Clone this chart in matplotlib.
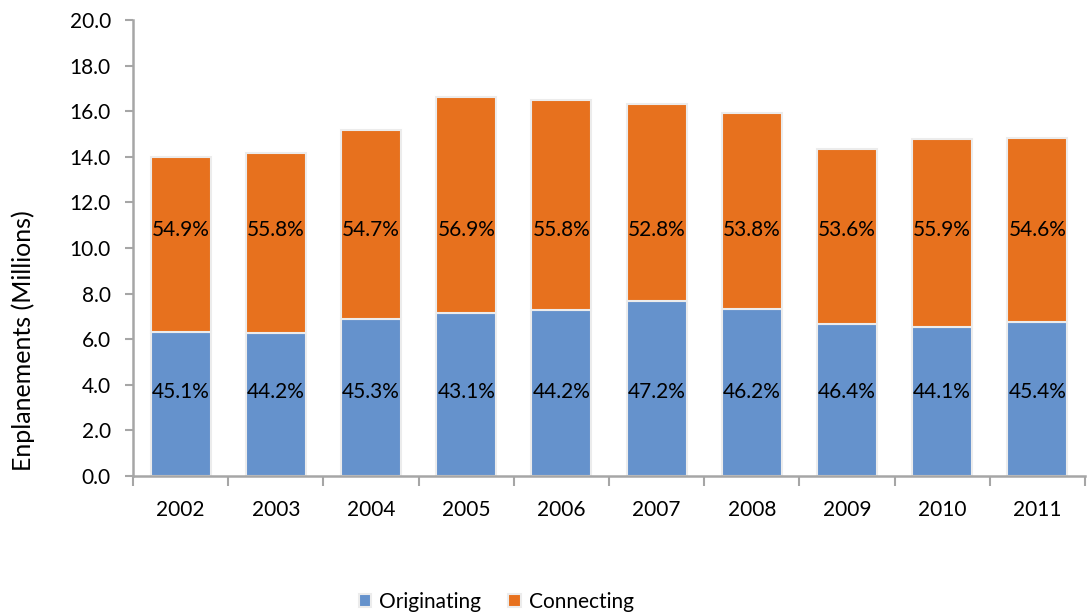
import numpy as np
import matplotlib.pyplot as plt
from matplotlib.ticker import FixedLocator, NullFormatter

plt.rcParams['font.family'] = ['Lato', 'DejaVu Sans']

years = ['2002', '2003', '2004', '2005', '2006', '2007', '2008', '2009', '2010', '2011']
# total enplanements (millions) per year
totals = [14.0, 14.17, 15.17, 16.62, 16.5, 16.3, 15.9, 14.35, 14.8, 14.83]
# share of originating / connecting passengers (%)
orig_pct = [45.1, 44.2, 45.3, 43.1, 44.2, 47.2, 46.2, 46.4, 44.1, 45.4]
conn_pct = [54.9, 55.8, 54.7, 56.9, 55.8, 52.8, 53.8, 53.6, 55.9, 54.6]

BLUE = '#6592cc'
ORANGE = '#e7711e'
GRID = '#a6a6a6'

totals = np.array(totals)
originating = totals * np.array(orig_pct) / 100
connecting = totals - originating

fig = plt.figure(figsize=(10.91, 6.14), dpi=100)
ax = fig.add_axes([0.122, 0.2248, 0.8725, 0.7426])

x = np.arange(len(years))
ax.bar(x, originating, width=0.63, color=BLUE, edgecolor='#ececec', linewidth=1.5,
       label='Originating', zorder=2)
ax.bar(x, connecting, width=0.63, bottom=originating, color=ORANGE, edgecolor='#ececec',
       linewidth=1.5, label='Connecting', zorder=2)

# percentage labels inside each segment
for i in range(len(years)):
    ax.text(x[i], 3.7, '%.1f%%' % orig_pct[i], ha='center', va='center', fontsize=15, color='black')
    ax.text(x[i], 10.8, '%.1f%%' % conn_pct[i], ha='center', va='center', fontsize=15, color='black')

ax.set_xlim(-0.5, len(years) - 0.5)
ax.set_ylim(0, 20)
ax.set_yticks(np.arange(0, 20.1, 2))
ax.set_yticklabels(['%.1f' % v for v in np.arange(0, 20.1, 2)], fontsize=15)

# category labels centred, tick marks between categories
ax.xaxis.set_major_locator(FixedLocator(np.arange(-0.5, len(years), 1)))
ax.xaxis.set_major_formatter(NullFormatter())
ax.xaxis.set_minor_locator(FixedLocator(x))
ax.set_xticklabels(years, minor=True, fontsize=15)
ax.tick_params(axis='x', which='major', length=7, width=1.5, color=GRID)
ax.tick_params(axis='x', which='minor', length=0, pad=17)
ax.tick_params(axis='y', length=6, width=1.5, color=GRID, pad=10)

for side in ['top', 'right']:
    ax.spines[side].set_visible(False)
for side in ['left', 'bottom']:
    ax.spines[side].set_color(GRID)
    ax.spines[side].set_linewidth(1.8)

ax.set_ylabel('Enplanements (Millions)', fontsize=18)
ax.yaxis.set_label_coords(-0.103, 0.296)

fig.legend(loc='center', bbox_to_anchor=(0.455, 0.02), ncol=2, frameon=False,
           fontsize=15, handlelength=0.6, handleheight=0.6, handletextpad=0.4,
           columnspacing=1.3)

fig.savefig('out.png', dpi=100)
